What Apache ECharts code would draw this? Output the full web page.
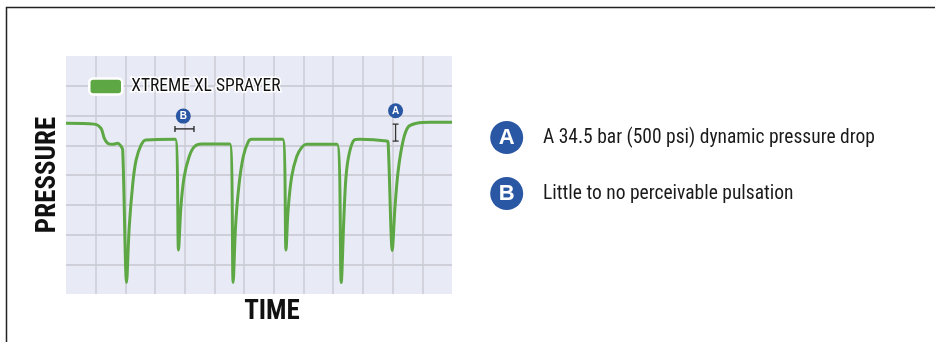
<!DOCTYPE html>
<html>
<head>
<meta charset="utf-8">
<script src="https://cdn.jsdelivr.net/npm/echarts@6/dist/echarts.min.js"></script>
<style>
  html, body { margin: 0; padding: 0; background: #fff; }
  #chart { width: 935px; height: 342px; }
</style>
</head>
<body>
<div id="chart"></div>
<script>
// time / pressure in grid units
const timeVals = [0, 0.95, 1.18, 1.29, 1.40, 1.57, 1.74, 1.85, 1.91, 2.04, 2.13, 2.25, 2.36, 2.53, 2.69,
  3.68, 3.79, 3.87, 3.98, 4.15, 4.32, 4.57, 5.52, 5.63, 5.71, 5.82, 5.97, 6.14, 6.25,
  7.30, 7.41, 7.48, 7.60, 7.77, 7.94, 8.10, 9.13, 9.27, 9.36, 9.43, 9.54, 9.71, 9.90,
  10.80, 10.85, 10.99, 11.08, 11.19, 11.36, 11.53, 11.81, 12.26, 13.0];
const pressureVals = [5.74, 5.71, 5.57, 5.23, 5.07, 5.03, 5.07, 4.97, 4.84, 0.39, 2.26, 3.72, 4.50, 5.01, 5.18,
  5.20, 1.48, 2.93, 3.94, 4.62, 4.95, 5.04, 5.04, 0.39, 2.26, 3.61, 4.62, 5.12, 5.20,
  5.20, 1.48, 2.82, 3.94, 4.62, 4.93, 5.03, 5.03, 0.39, 2.60, 3.94, 4.73, 5.18, 5.20,
  5.14, 5.07, 1.46, 2.93, 4.17, 5.18, 5.62, 5.74, 5.77, 5.77];

const seriesName = 'XTREME XL SPRAYER';
const notes = [
  { tag: 'A', text: 'A 34.5 bar (500 psi) dynamic pressure drop' },
  { tag: 'B', text: 'Little to no perceivable pulsation' }
];
// callouts on the trace: A = drop bracket, B = width bracket
const calloutA = { x: 11.10, yLabel: 6.16, yTop: 5.71, yBottom: 5.14 };
const calloutB = { xLabel: 3.95, yLabel: 5.98, xLeft: 3.67, xRight: 4.31, y: 5.55 };

const GREEN = '#5da844';
const BLUE = '#2a57a3';
const COND = '"Roboto Condensed", "Liberation Sans", sans-serif';

const chart = echarts.init(document.getElementById('chart'));

const lineData = timeVals.map((t, i) => [t, pressureVals[i]]);

const option = {
  animation: false,
  grid: {
    left: 66, top: 56, width: 386, height: 238,
    show: true, backgroundColor: '#e8eaf5', borderWidth: 0
  },
  legend: {
    data: [seriesName],
    left: 88, top: 76,
    padding: 0,
    icon: 'roundRect',
    itemWidth: 33, itemHeight: 16, itemGap: 10,
    itemStyle: { borderColor: '#fff', borderWidth: 2.5 },
    textStyle: {
      fontFamily: COND, fontSize: 17.5, color: '#111', padding: [0, 0, 0, 4],
      textBorderColor: '#fff', textBorderWidth: 3
    }
  },
  xAxis: {
    type: 'value', min: 0, max: 13, interval: 1,
    axisLine: { show: false }, axisTick: { show: false }, axisLabel: { show: false },
    splitLine: { show: true, showMinLine: false, showMaxLine: false, lineStyle: { color: '#cbcbd3', width: 1.5 } }
  },
  yAxis: {
    type: 'value', min: 0, max: 8, interval: 1,
    axisLine: { show: false }, axisTick: { show: false }, axisLabel: { show: false },
    splitLine: { show: true, showMinLine: false, showMaxLine: false, lineStyle: { color: '#c6c6cf', width: 1.5 } }
  },
  series: [{
    name: seriesName,
    type: 'line',
    data: lineData,
    showSymbol: false,
    smooth: 0.3,
    color: GREEN,
    lineStyle: { color: GREEN, width: 3 },
    z: 3
  }]
};

chart.setOption(option);

// build annotation graphics from data coords
const px = (x, y) => chart.convertToPixel({ gridIndex: 0 }, [x, y]);

function badge(cx, cy, r, letter, fs) {
  return [
    { type: 'circle', shape: { cx: cx, cy: cy, r: r }, style: { fill: BLUE }, z: 10 },
    { type: 'text', x: cx, y: cy + 0.5, z: 11,
      style: { text: letter, fill: '#fff', font: 'bold ' + fs + 'px "Liberation Sans", Arial, sans-serif',
        align: 'center', verticalAlign: 'middle' } }
  ];
}

const g = [];
// frame
g.push({ type: 'polyline', shape: { points: [[6.5, 342], [6.5, 7.5], [935, 7.5]] },
  style: { stroke: '#222', lineWidth: 1.5, fill: null } });

// callout A
const aL = px(calloutA.x, calloutA.yLabel);
const aT = px(calloutA.x, calloutA.yTop);
const aB = px(calloutA.x, calloutA.yBottom);
g.push(...badge(aL[0], aL[1], 7.5, 'A', 10));
g.push({ type: 'line', z: 10, shape: { x1: aT[0], y1: aT[1], x2: aB[0], y2: aB[1] }, style: { stroke: '#333', lineWidth: 1.3 } });
g.push({ type: 'line', z: 10, shape: { x1: aT[0] - 3, y1: aT[1], x2: aT[0] + 3, y2: aT[1] }, style: { stroke: '#333', lineWidth: 1.3 } });
g.push({ type: 'line', z: 10, shape: { x1: aB[0] - 3, y1: aB[1], x2: aB[0] + 3, y2: aB[1] }, style: { stroke: '#333', lineWidth: 1.3 } });

// callout B
const bL = px(calloutB.xLabel, calloutB.yLabel);
const bA = px(calloutB.xLeft, calloutB.y);
const bZ = px(calloutB.xRight, calloutB.y);
g.push(...badge(bL[0], bL[1], 7.5, 'B', 10));
g.push({ type: 'line', z: 10, shape: { x1: bA[0], y1: bA[1], x2: bZ[0], y2: bZ[1] }, style: { stroke: '#222', lineWidth: 1.3 } });
g.push({ type: 'line', z: 10, shape: { x1: bA[0], y1: bA[1] - 3, x2: bA[0], y2: bA[1] + 3 }, style: { stroke: '#222', lineWidth: 1.3 } });
g.push({ type: 'line', z: 10, shape: { x1: bZ[0], y1: bZ[1] - 3, x2: bZ[0], y2: bZ[1] + 3 }, style: { stroke: '#222', lineWidth: 1.3 } });

// axis titles
g.push({ type: 'text', x: 48, y: 175, rotation: Math.PI / 2,
  style: { text: 'PRESSURE', font: 'bold 27px ' + COND, fill: '#111', align: 'center', verticalAlign: 'middle' } });
g.push({ type: 'text', x: 272, y: 312,
  style: { text: 'TIME', font: 'bold 27px ' + COND, fill: '#111', align: 'center', verticalAlign: 'middle' } });

// notes on the right
notes.forEach((n, i) => {
  const cy = 137.5 + i * 56;
  g.push(...badge(506.7, cy, 16.5, n.tag, 22));
  g.push({ type: 'text', x: 543, y: cy + 1,
    style: { text: n.text, font: '19.5px ' + COND, fill: '#1a1a1a', align: 'left', verticalAlign: 'middle' } });
});

chart.setOption({ graphic: { elements: g } });
</script>
</body>
</html>
